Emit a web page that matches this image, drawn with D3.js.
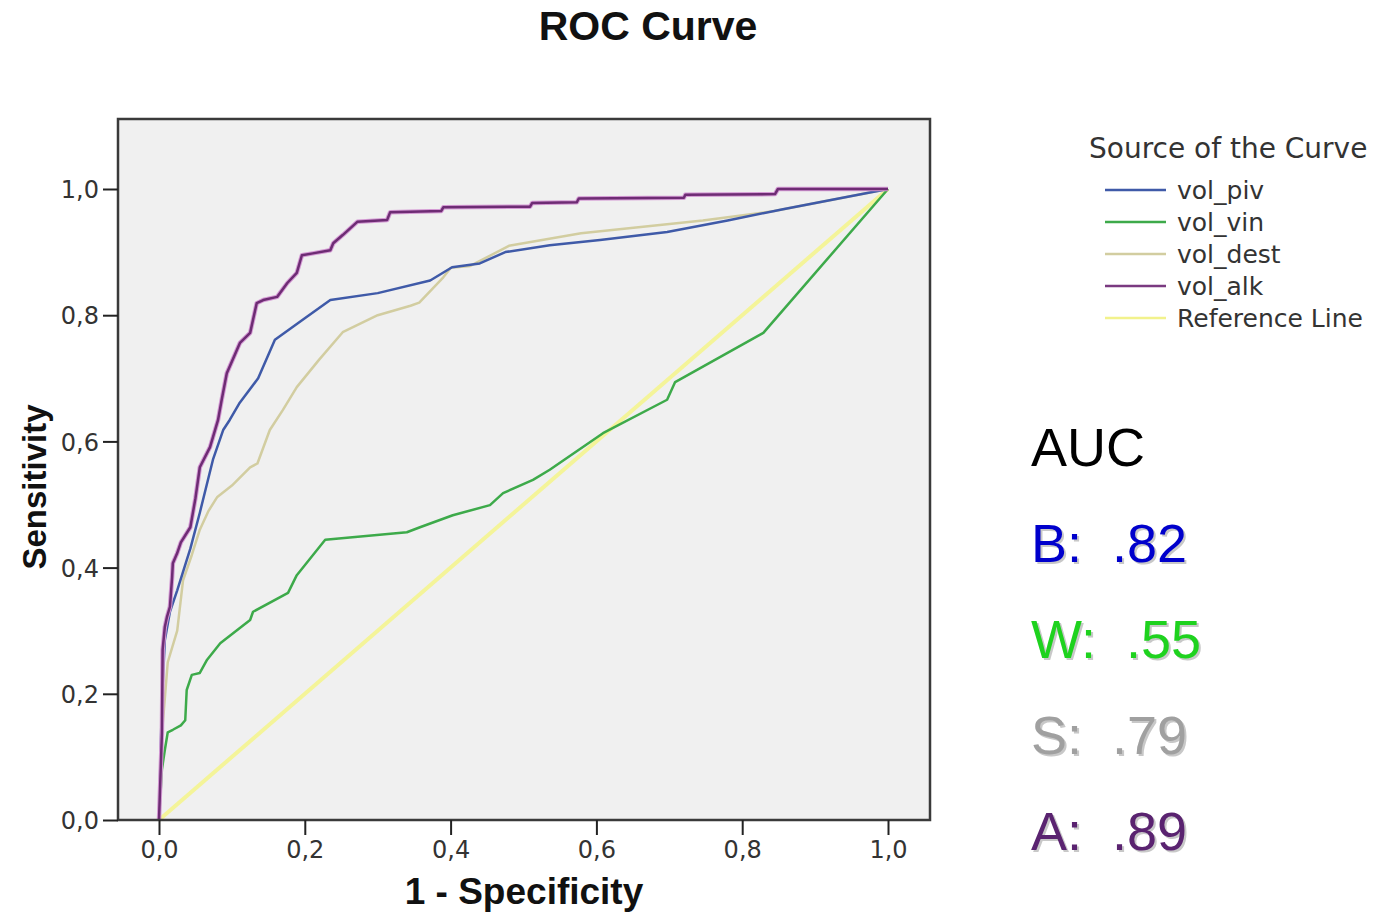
<!DOCTYPE html>
<html>
<head>
<meta charset="utf-8">
<script src="https://cdn.jsdelivr.net/npm/d3@7"></script>
<style>
  body { margin: 0; background: #fff; }
  svg { display: block; }
</style>
</head>
<body>
<svg id="chart" width="1389" height="912"></svg>
<script>
// ROC points, [1 - specificity, sensitivity]
var volPiv = [[0,0],[0.004,0.19],[0.008,0.285],[0.015,0.33],[0.025,0.364],[0.038,0.412],[0.043,0.43],
  [0.056,0.487],[0.074,0.571],[0.088,0.618],[0.097,0.634],[0.11,0.66],[0.136,0.70],[0.159,0.761],
  [0.2,0.795],[0.235,0.824],[0.30,0.835],[0.372,0.855],[0.402,0.876],[0.44,0.882],[0.475,0.90],
  [0.536,0.911],[0.605,0.919],[0.697,0.932],[0.78,0.95],[0.856,0.968],[1,1]];

var volVin = [[0,0],[0.004,0.08],[0.008,0.111],[0.012,0.139],[0.019,0.143],[0.03,0.15],[0.036,0.158],
  [0.038,0.206],[0.045,0.23],[0.056,0.233],[0.066,0.254],[0.084,0.28],[0.125,0.317],[0.129,0.33],
  [0.177,0.36],[0.189,0.388],[0.228,0.444],[0.34,0.456],[0.358,0.464],[0.403,0.483],[0.454,0.499],
  [0.472,0.518],[0.513,0.539],[0.536,0.555],[0.609,0.613],[0.697,0.666],[0.708,0.694],[0.829,0.772],[1,1]];

var volDest = [[0,0],[0.005,0.15],[0.012,0.25],[0.025,0.3],[0.033,0.38],[0.045,0.42],[0.056,0.46],
  [0.068,0.49],[0.08,0.512],[0.1,0.53],[0.125,0.559],[0.135,0.565],[0.152,0.618],[0.17,0.65],
  [0.189,0.686],[0.22,0.73],[0.252,0.773],[0.30,0.80],[0.345,0.815],[0.357,0.82],[0.39,0.86],
  [0.40,0.875],[0.427,0.878],[0.48,0.91],[0.579,0.93],[0.746,0.95],[0.844,0.965],[1,1]];

var volAlk = [[0,0],[0.004,0.138],[0.005,0.27],[0.008,0.306],[0.011,0.322],[0.015,0.338],[0.018,0.385],
  [0.019,0.407],[0.025,0.423],[0.03,0.44],[0.043,0.464],[0.05,0.51],[0.056,0.559],[0.07,0.591],
  [0.081,0.634],[0.086,0.666],[0.093,0.708],[0.111,0.756],[0.125,0.772],[0.134,0.819],[0.143,0.824],
  [0.162,0.829],[0.176,0.851],[0.189,0.867],[0.196,0.895],[0.211,0.898],[0.235,0.903],[0.239,0.914],
  [0.252,0.927],[0.272,0.948],[0.313,0.951],[0.317,0.963],[0.387,0.965],[0.39,0.971],[0.509,0.972],
  [0.512,0.978],[0.573,0.979],[0.576,0.985],[0.72,0.986],[0.722,0.991],[0.845,0.992],[0.849,1],[1,1]];

var refLine = [[0,0],[1,1]];

var legendNames = ["vol_piv", "vol_vin", "vol_dest", "vol_alk", "Reference Line"];
var legendColors = ["#3f5aa8", "#3daa4a", "#d2cda0", "#7a3a80", "#f2f28c"];

var aucLabels = ["B:\u00a0\u00a0.82", "W:\u00a0\u00a0.55", "S:\u00a0\u00a0.79", "A:\u00a0\u00a0.89"];
var aucColors = ["#0000cc", "#1ed21e", "#a0a0a0", "#5a2370"];

var xTicks = [0, 0.2, 0.4, 0.6, 0.8, 1.0],
    yTicks = [0, 0.2, 0.4, 0.6, 0.8, 1.0];

var svg = d3.select("#chart");

// plot frame
var frame = {left: 118, top: 119, right: 930, bottom: 820};

var x = d3.scaleLinear().domain([0, 1]).range([159, 888]);
var y = d3.scaleLinear().domain([0, 1]).range([820, 189]);

var commaFmt = function(d) { return d3.format(".1f")(d).replace(".", ","); };

svg.append("rect")
    .attr("x", frame.left)
    .attr("y", frame.top)
    .attr("width", frame.right - frame.left)
    .attr("height", frame.bottom - frame.top)
    .attr("fill", "#f0f0f0");

// title
svg.append("text")
    .attr("x", 648)
    .attr("y", 40)
    .attr("text-anchor", "middle")
    .attr("font-family", "Liberation Sans, Arial, sans-serif")
    .attr("font-weight", "bold")
    .attr("font-size", 41)
    .attr("fill", "#111")
    .text("ROC Curve");

var line = d3.line()
    .x(function(d) { return x(d[0]); })
    .y(function(d) { return y(d[1]); });

// curves
var g = svg.append("g");

g.append("path").datum(refLine)
    .attr("fill", "none").attr("stroke", "#f4f499").attr("stroke-width", 4)
    .attr("d", line);

g.append("path").datum(volDest)
    .attr("fill", "none").attr("stroke", "#d2cda0").attr("stroke-width", 2.5)
    .attr("stroke-linejoin", "round").attr("d", line);

g.append("path").datum(volVin)
    .attr("fill", "none").attr("stroke", "#3daa4a").attr("stroke-width", 2.5)
    .attr("stroke-linejoin", "round").attr("d", line);

g.append("path").datum(volPiv)
    .attr("fill", "none").attr("stroke", "#3f5aa8").attr("stroke-width", 2.5)
    .attr("stroke-linejoin", "round").attr("d", line);

// purple curve has a pinkish halo in the picture
g.append("path").datum(volAlk)
    .attr("fill", "none").attr("stroke", "#d49ad4").attr("stroke-width", 4.5)
    .attr("stroke-linejoin", "round").attr("d", line);
g.append("path").datum(volAlk)
    .attr("fill", "none").attr("stroke", "#6e2c74").attr("stroke-width", 2.5)
    .attr("stroke-linejoin", "round").attr("d", line);

// frame border
svg.append("rect")
    .attr("x", frame.left)
    .attr("y", frame.top)
    .attr("width", frame.right - frame.left)
    .attr("height", frame.bottom - frame.top)
    .attr("fill", "none")
    .attr("stroke", "#3a3a3a")
    .attr("stroke-width", 2.5);

// axes
var xAxis = svg.append("g")
    .attr("transform", "translate(0," + frame.bottom + ")")
    .call(d3.axisBottom(x).tickValues(xTicks).tickSize(15).tickPadding(6).tickFormat(commaFmt));

var yAxis = svg.append("g")
    .attr("transform", "translate(" + frame.left + ",0)")
    .call(d3.axisLeft(y).tickValues(yTicks).tickSize(15).tickPadding(4).tickFormat(commaFmt));

[xAxis, yAxis].forEach(function(a) {
  a.select(".domain").remove();
  a.selectAll(".tick line").attr("stroke", "#222").attr("stroke-width", 2);
  a.selectAll(".tick text")
      .attr("font-family", "DejaVu Sans, Verdana, sans-serif")
      .attr("font-size", 24)
      .attr("fill", "#333");
});
yAxis.selectAll(".tick text").attr("dy", "0.36em");

// axis titles
svg.append("text")
    .attr("x", 524)
    .attr("y", 904)
    .attr("text-anchor", "middle")
    .attr("font-family", "Liberation Sans, Arial, sans-serif")
    .attr("font-weight", "bold")
    .attr("font-size", 37)
    .attr("fill", "#111")
    .text("1 - Specificity");

svg.append("text")
    .attr("transform", "translate(46,487) rotate(-90)")
    .attr("text-anchor", "middle")
    .attr("font-family", "Liberation Sans, Arial, sans-serif")
    .attr("font-weight", "bold")
    .attr("font-size", 33)
    .attr("fill", "#111")
    .text("Sensitivity");

// legend
var legend = svg.append("g");

legend.append("text")
    .attr("x", 1089)
    .attr("y", 158)
    .attr("font-family", "DejaVu Sans, Verdana, sans-serif")
    .attr("font-size", 28)
    .attr("fill", "#333")
    .text("Source of the Curve");

var rows = legend.selectAll(".row")
    .data(legendNames)
  .enter().append("g")
    .attr("class", "row")
    .attr("transform", function(d, i) { return "translate(0," + (190 + i * 32) + ")"; });

rows.append("line")
    .attr("x1", 1105).attr("x2", 1166)
    .attr("stroke", function(d, i) { return legendColors[i]; })
    .attr("stroke-width", 2.5);

rows.append("text")
    .attr("x", 1177)
    .attr("dy", "0.35em")
    .attr("font-family", "DejaVu Sans, Verdana, sans-serif")
    .attr("font-size", 25)
    .attr("fill", "#333")
    .text(function(d) { return d; });

// AUC notes
var auc = svg.append("g")
    .attr("font-family", "Liberation Sans, Arial, sans-serif")
    .attr("font-size", 54);

auc.append("text")
    .attr("x", 1031)
    .attr("y", 466)
    .attr("fill", "#000")
    .text("AUC");

var notes = auc.selectAll(".note")
    .data(aucLabels)
  .enter().append("g")
    .attr("class", "note")
    .attr("transform", function(d, i) { return "translate(1031," + (562 + i * 96) + ")"; });

notes.append("text")
    .attr("x", 2).attr("y", 2)
    .attr("fill", "#c8c8c8")
    .text(function(d) { return d; });

notes.append("text")
    .attr("fill", function(d, i) { return aucColors[i]; })
    .text(function(d) { return d; });
</script>
</body>
</html>
